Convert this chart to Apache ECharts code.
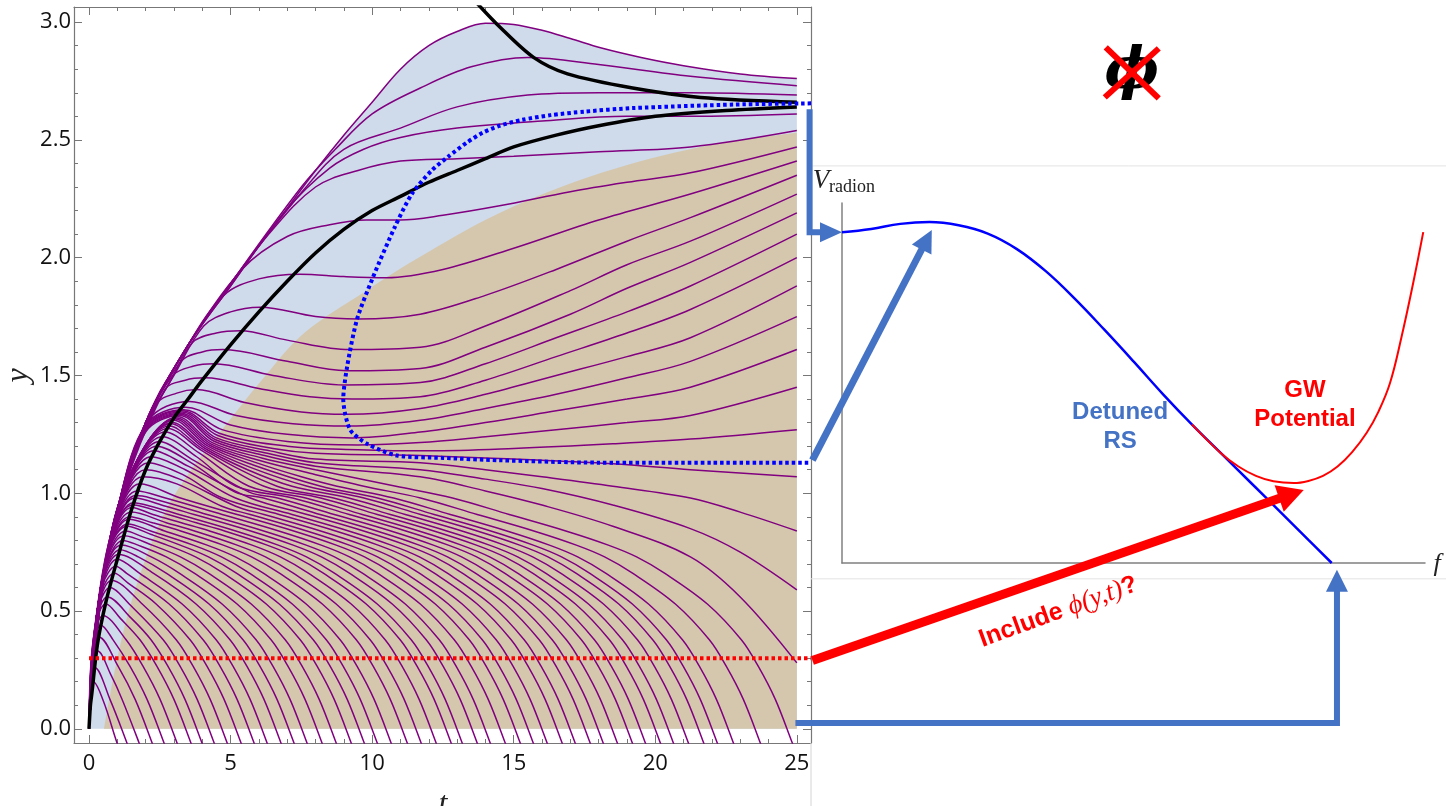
<!DOCTYPE html>
<html>
<head>
<meta charset="utf-8">
<script src="https://cdn.jsdelivr.net/npm/echarts@6.0.0/dist/echarts.min.js"></script>
<style>
  html, body { margin: 0; padding: 0; background: #fff; }
  #main { width: 1446px; height: 806px; }
</style>
</head>
<body>
<div id="main"></div>
<script>
// ---- axis ticks ----
const tTicks = [0, 5, 10, 15, 20, 25];
const tMinor = [0, 1, 2, 3, 4, 5, 6, 7, 8, 9, 10, 11, 12, 13, 14, 15, 16, 17, 18, 19, 20, 21, 22, 23, 24, 25];
const yTicks = [0, 0.5, 1, 1.5, 2, 2.5, 3];
const yMinor = [0, 0.1, 0.2, 0.3, 0.4, 0.5, 0.6, 0.7, 0.8, 0.9, 1, 1.1, 1.2, 1.3, 1.4, 1.5, 1.6, 1.7, 1.8, 1.9, 2, 2.1, 2.2, 2.3, 2.4, 2.5, 2.6, 2.7, 2.8, 2.9, 3];

// ---- left panel: y(t) trajectories ----
// top trajectory (also the edge of the blue region)
const envelopeCurve = [[0,0],[0.02,0.15],[0.08,0.3],[0.17,0.4],[0.28,0.5],[0.42,0.62],[0.6,0.74],[0.8,0.84],[1.0,0.93],[1.25,1.03],[1.5,1.12],[2.0,1.3],[2.5,1.43],[3.0,1.53],[3.5,1.63],[4.0,1.72],[5.0,1.89],[6.0,2.05],[7.0,2.21],[8.0,2.37],[9.0,2.52],[10.0,2.66],[11.0,2.8],[12.0,2.9],[13.0,2.96],[14.0,2.995],[15.0,2.99],[16.0,2.965],[17.0,2.93],[18.1,2.89],[19.5,2.85],[21.0,2.815],[23.0,2.78],[25.0,2.76]];
const tanBoundary = [[0.53,0],[1.0,0.3],[1.6,0.58],[2.6,0.9],[3.5,1.08],[4.9,1.3],[6.1,1.48],[7.6,1.68],[9.8,1.86],[11.5,1.99],[14.5,2.19],[18.1,2.36],[21.6,2.47],[25,2.53]];

// trajectories that fall through y = 0
const fallingTrajs = [
  [[0,0],[0.02,0.11],[0.05,0.175],[0.15,0.2],[0.5,0.12],[0.99,-0.06],[1.29,-0.16]],
  [[0,0],[0.03,0.14],[0.07,0.23],[0.2,0.26],[0.74,0.125],[1.34,-0.06],[1.64,-0.16]],
  [[0,0],[0.04,0.18],[0.1,0.29],[0.3,0.33],[0.77,0.23],[1.17,0.125],[1.77,-0.06],[2.07,-0.16]],
  [[0,0],[0.05,0.215],[0.15,0.34],[0.35,0.39],[1.03,0.265],[1.63,0.125],[2.23,-0.06],[2.53,-0.16]],
  [[0,0],[0.065,0.24],[0.19,0.39],[0.42,0.44],[0.85,0.378],[1.45,0.265],[2.05,0.125],[2.65,-0.06],[2.95,-0.16]],
  [[0,0],[0.075,0.26],[0.23,0.42],[0.5,0.48],[1.31,0.378],[1.91,0.265],[2.51,0.125],[3.11,-0.06],[3.41,-0.16]],
  [[0,0],[0.09,0.29],[0.28,0.47],[0.6,0.53],[1.1,0.47],[1.8,0.378],[2.4,0.265],[3.0,0.125],[3.6,-0.06],[3.9,-0.16]],
  [[0,0],[0.1,0.31],[0.32,0.49],[0.65,0.56],[1.49,0.47],[2.19,0.378],[2.79,0.265],[3.39,0.125],[3.99,-0.06],[4.29,-0.16]],
  [[0,0],[0.12,0.33],[0.37,0.53],[0.75,0.6],[1.42,0.53],[2.62,0.378],[3.22,0.265],[3.82,0.125],[4.42,-0.06],[4.72,-0.16]],
  [[0,0],[0.14,0.35],[0.4,0.55],[0.8,0.63],[1.88,0.53],[3.08,0.378],[3.68,0.265],[4.28,0.125],[4.88,-0.06],[5.18,-0.16]],
  [[0,0],[0.155,0.36],[0.44,0.58],[0.9,0.66],[1.37,0.62],[2.37,0.53],[3.57,0.378],[4.17,0.265],[4.77,0.125],[5.37,-0.06],[5.67,-0.16]],
  [[0,0],[0.18,0.38],[0.48,0.61],[0.95,0.69],[1.33,0.66],[2.83,0.53],[4.03,0.378],[4.63,0.265],[5.23,0.125],[5.83,-0.06],[6.13,-0.16]],
  [[0,0],[0.195,0.4],[0.52,0.63],[1.0,0.72],[1.79,0.66],[3.29,0.53],[4.49,0.378],[5.09,0.265],[5.69,0.125],[6.29,-0.06],[6.59,-0.16]],
  [[0,0],[0.2,0.41],[0.54,0.65],[1.05,0.74],[2.28,0.66],[3.78,0.53],[4.98,0.378],[5.58,0.265],[6.18,0.125],[6.78,-0.06],[7.08,-0.16]],
  [[0,0],[0.22,0.42],[0.57,0.67],[1.1,0.76],[1.74,0.73],[2.74,0.66],[4.24,0.53],[5.44,0.378],[6.04,0.265],[6.64,0.125],[7.24,-0.06],[7.54,-0.16]],
  [[0,0],[0.23,0.43],[0.6,0.69],[1.15,0.78],[2.2,0.73],[3.2,0.66],[4.7,0.53],[5.9,0.378],[6.5,0.265],[7.1,0.125],[7.7,-0.06],[8.0,-0.16]],
  [[0,0],[0.245,0.44],[0.625,0.7],[1.2,0.8],[1.73,0.78],[2.73,0.73],[3.73,0.66],[5.23,0.53],[6.43,0.378],[7.03,0.265],[7.63,0.125],[8.23,-0.06],[8.53,-0.16]],
  [[0,0],[0.26,0.45],[0.65,0.72],[1.25,0.82],[2.23,0.78],[3.23,0.73],[4.23,0.66],[5.73,0.53],[6.93,0.378],[7.53,0.265],[8.13,0.125],[8.73,-0.06],[9.03,-0.16]],
  [[0,0],[0.275,0.46],[0.68,0.74],[1.3,0.84],[1.9,0.815],[2.76,0.78],[3.76,0.73],[4.76,0.66],[6.26,0.53],[7.46,0.378],[8.06,0.265],[8.66,0.125],[9.26,-0.06],[9.56,-0.16]],
  [[0,0],[0.29,0.47],[0.71,0.76],[1.35,0.86],[2.2,0.825],[3.22,0.78],[4.22,0.73],[5.22,0.66],[6.72,0.53],[7.92,0.378],[8.52,0.265],[9.12,0.125],[9.72,-0.06],[10.02,-0.16]],
  [[0,0],[0.3,0.48],[0.73,0.77],[1.38,0.87],[2.18,0.84],[3.68,0.78],[4.68,0.73],[5.68,0.66],[7.18,0.53],[8.38,0.378],[8.98,0.265],[9.58,0.125],[10.18,-0.06],[10.48,-0.16]],
  [[0,0],[0.31,0.49],[0.77,0.78],[1.42,0.89],[2.67,0.84],[4.17,0.78],[5.17,0.73],[6.17,0.66],[7.67,0.53],[8.87,0.378],[9.47,0.265],[10.07,0.125],[10.67,-0.06],[10.97,-0.16]],
  [[0,0],[0.32,0.5],[0.79,0.79],[1.45,0.9],[2.24,0.875],[3.24,0.84],[4.74,0.78],[5.74,0.73],[6.74,0.66],[8.24,0.53],[9.44,0.378],[10.04,0.265],[10.64,0.125],[11.24,-0.06],[11.54,-0.16]],
  [[0,0],[0.33,0.51],[0.83,0.81],[1.5,0.92],[2.73,0.875],[3.73,0.84],[5.23,0.78],[6.23,0.73],[7.23,0.66],[8.73,0.53],[9.93,0.378],[10.53,0.265],[11.13,0.125],[11.73,-0.06],[12.03,-0.16]],
  [[0,0],[0.35,0.52],[0.87,0.83],[1.52,0.94],[2.26,0.91],[3.26,0.875],[4.26,0.84],[5.76,0.78],[6.76,0.73],[7.76,0.66],[9.26,0.53],[10.46,0.378],[11.06,0.265],[11.66,0.125],[12.26,-0.06],[12.56,-0.16]],
  [[0,0],[0.36,0.52],[0.88,0.84],[1.55,0.95],[2.79,0.91],[3.79,0.875],[4.79,0.84],[6.29,0.78],[7.29,0.73],[8.29,0.66],[9.79,0.53],[10.99,0.378],[11.59,0.265],[12.19,0.125],[12.79,-0.06],[13.09,-0.16]],
  [[0,0],[0.37,0.53],[0.9,0.85],[1.58,0.96],[2.18,0.945],[3.18,0.91],[5.18,0.84],[6.68,0.78],[7.68,0.73],[8.68,0.66],[10.18,0.53],[11.38,0.378],[11.98,0.265],[12.58,0.125],[13.18,-0.06],[13.48,-0.16]],
  [[0,0],[0.38,0.54],[0.93,0.86],[1.62,0.98],[2.71,0.945],[3.71,0.91],[5.71,0.84],[7.21,0.78],[8.21,0.73],[9.21,0.66],[10.71,0.53],[11.91,0.378],[12.51,0.265],[13.11,0.125],[13.71,-0.06],[14.01,-0.16]],
  [[0,0],[0.39,0.545],[0.95,0.87],[1.65,0.99],[2.17,0.98],[4.17,0.91],[6.17,0.84],[7.67,0.78],[8.67,0.73],[9.67,0.66],[11.17,0.53],[12.37,0.378],[12.97,0.265],[13.57,0.125],[14.17,-0.06],[14.47,-0.16]],
  [[0,0],[0.4,0.555],[0.99,0.89],[1.7,1.01],[2.7,0.98],[4.7,0.91],[6.7,0.84],[8.2,0.78],[9.2,0.73],[10.2,0.66],[11.7,0.53],[12.9,0.378],[13.5,0.265],[14.1,0.125],[14.7,-0.06],[15.0,-0.16]],
  [[0,0],[0.41,0.56],[1.0,0.9],[1.8,1.04],[3.23,0.98],[5.23,0.91],[7.23,0.84],[8.73,0.78],[9.73,0.73],[10.73,0.66],[12.23,0.53],[13.43,0.378],[14.03,0.265],[14.63,0.125],[15.23,-0.06],[15.53,-0.16]],
  [[0,0],[0.42,0.565],[1.05,0.92],[1.9,1.07],[3.1,1.04],[4.69,0.945],[5.69,0.91],[7.69,0.84],[9.19,0.78],[10.19,0.73],[11.19,0.66],[12.69,0.53],[13.89,0.378],[14.49,0.265],[15.09,0.125],[15.69,-0.06],[15.99,-0.16]],
  [[0,0],[0.42,0.57],[1.07,0.93],[2.0,1.1],[3.2,1.06],[5.18,0.945],[6.18,0.91],[8.18,0.84],[9.68,0.78],[10.68,0.73],[11.68,0.66],[13.18,0.53],[14.38,0.378],[14.98,0.265],[15.58,0.125],[16.18,-0.06],[16.48,-0.16]],
  [[0,0],[0.43,0.57],[1.09,0.94],[2.1,1.13],[3.3,1.08],[4.71,0.98],[6.71,0.91],[8.71,0.84],[10.21,0.78],[11.21,0.73],[12.21,0.66],[13.71,0.53],[14.91,0.378],[15.51,0.265],[16.11,0.125],[16.71,-0.06],[17.01,-0.16]],
  [[0,0],[0.435,0.575],[1.11,0.95],[2.2,1.155],[3.4,1.1],[5.17,0.98],[7.17,0.91],[9.17,0.84],[10.67,0.78],[11.67,0.73],[12.67,0.66],[14.17,0.53],[15.37,0.378],[15.97,0.265],[16.57,0.125],[17.17,-0.06],[17.47,-0.16]],
  [[0,0],[0.44,0.58],[1.13,0.96],[2.3,1.18],[3.5,1.115],[5.7,0.98],[7.7,0.91],[9.7,0.84],[11.2,0.78],[12.2,0.73],[13.2,0.66],[14.7,0.53],[15.9,0.378],[16.5,0.265],[17.1,0.125],[17.7,-0.06],[18.0,-0.16]],
  [[0,0],[0.445,0.58],[1.15,0.97],[2.4,1.2],[3.6,1.13],[5.16,1.005],[6.16,0.98],[8.16,0.91],[10.16,0.84],[11.66,0.78],[12.66,0.73],[13.66,0.66],[15.16,0.53],[16.36,0.378],[16.96,0.265],[17.56,0.125],[18.16,-0.06],[18.46,-0.16]],
  [[0,0],[0.45,0.585],[1.17,0.98],[2.5,1.22],[3.7,1.14],[5.66,1.005],[6.66,0.98],[8.66,0.91],[10.66,0.84],[12.16,0.78],[13.16,0.73],[14.16,0.66],[15.66,0.53],[16.86,0.378],[17.46,0.265],[18.06,0.125],[18.66,-0.06],[18.96,-0.16]],
  [[0,0],[0.455,0.59],[1.19,0.99],[2.6,1.24],[3.8,1.155],[5.19,1.03],[7.19,0.98],[9.19,0.91],[11.19,0.84],[12.69,0.78],[13.69,0.73],[14.69,0.66],[16.19,0.53],[17.39,0.378],[17.99,0.265],[18.59,0.125],[19.19,-0.06],[19.49,-0.16]],
  [[0,0],[0.46,0.59],[1.21,1.0],[2.7,1.26],[3.9,1.17],[5.65,1.03],[7.65,0.98],[9.65,0.91],[11.65,0.84],[13.15,0.78],[14.15,0.73],[15.15,0.66],[16.65,0.53],[17.85,0.378],[18.45,0.265],[19.05,0.125],[19.65,-0.06],[19.95,-0.16]],
  [[0,0],[0.465,0.595],[1.23,1.01],[2.8,1.275],[4.0,1.18],[6.18,1.03],[8.18,0.98],[10.18,0.91],[12.18,0.84],[13.68,0.78],[14.68,0.73],[15.68,0.66],[17.18,0.53],[18.38,0.378],[18.98,0.265],[19.58,0.125],[20.18,-0.06],[20.48,-0.16]],
  [[0,0],[0.47,0.6],[1.25,1.02],[2.85,1.285],[4.05,1.185],[6.64,1.03],[8.64,0.98],[10.64,0.91],[12.64,0.84],[14.14,0.78],[15.14,0.73],[16.14,0.66],[17.64,0.53],[18.84,0.378],[19.44,0.265],[20.04,0.125],[20.64,-0.06],[20.94,-0.16]],
  [[0,0],[0.475,0.6],[1.27,1.03],[2.9,1.295],[4.1,1.19],[5.6,1.1],[7.17,1.03],[9.17,0.98],[11.17,0.91],[13.17,0.84],[14.67,0.78],[15.67,0.73],[16.67,0.66],[18.17,0.53],[19.37,0.378],[19.97,0.265],[20.57,0.125],[21.17,-0.06],[21.47,-0.16]],
  [[0,0],[0.48,0.605],[1.3,1.035],[2.95,1.3],[4.15,1.195],[5.7,1.11],[7.71,1.03],[9.71,0.98],[11.71,0.91],[13.71,0.84],[15.21,0.78],[16.21,0.73],[17.21,0.66],[18.71,0.53],[19.91,0.378],[20.51,0.265],[21.11,0.125],[21.71,-0.06],[22.01,-0.16]],
  [[0,0],[0.485,0.61],[1.32,1.04],[3.0,1.31],[4.2,1.2],[5.8,1.12],[8.19,1.03],[10.19,0.98],[12.19,0.91],[14.19,0.84],[15.69,0.78],[16.69,0.73],[17.69,0.66],[19.19,0.53],[20.39,0.378],[20.99,0.265],[21.59,0.125],[22.19,-0.06],[22.49,-0.16]],
  [[0,0],[0.49,0.61],[1.34,1.05],[3.05,1.315],[4.25,1.205],[5.9,1.13],[7.5,1.07],[8.76,1.03],[10.76,0.98],[12.76,0.91],[14.76,0.84],[16.26,0.78],[17.26,0.73],[18.26,0.66],[19.76,0.53],[20.96,0.378],[21.56,0.265],[22.16,0.125],[22.76,-0.06],[23.06,-0.16]],
  [[0,0],[0.5,0.615],[1.36,1.055],[3.1,1.32],[4.3,1.21],[6.0,1.14],[7.8,1.085],[9.71,1.03],[11.71,0.98],[13.71,0.91],[15.71,0.84],[17.21,0.78],[18.21,0.73],[19.21,0.66],[20.71,0.53],[21.91,0.378],[22.51,0.265],[23.11,0.125],[23.71,-0.06],[24.01,-0.16]],
  [[0,0],[0.51,0.62],[1.38,1.06],[3.15,1.325],[4.35,1.215],[6.1,1.15],[8.0,1.1],[10.84,1.03],[12.84,0.98],[14.84,0.91],[16.84,0.84],[18.34,0.78],[19.34,0.73],[20.34,0.66],[21.84,0.53],[23.04,0.378],[23.64,0.265],[24.24,0.125],[24.84,-0.06],[25.0,-0.11]]
];

// trajectories still above zero at t = 25 but bending down
const turningTrajs = [
  [[0,0],[0.29,0.5],[1.0,0.93],[2.0,1.26],[3.2,1.33],[4.4,1.222],[6.2,1.16],[8,1.115],[11.7,1.07],[14,1.01],[16,0.95],[18.5,0.86],[21.24,0.73],[23,0.56],[25,0.28]],
  [[0,0],[0.29,0.5],[1.0,0.93],[2.0,1.265],[3.22,1.335],[4.45,1.228],[6.3,1.17],[8,1.13],[11.7,1.1],[14,1.06],[16,1.02],[18.5,0.95],[21.24,0.85],[23,0.75],[25,0.59]],
  [[0,0],[0.29,0.5],[1.0,0.93],[2.0,1.27],[3.25,1.34],[4.5,1.235],[6.4,1.18],[8,1.145],[11.7,1.13],[14,1.1],[16,1.07],[18.5,1.03],[21.24,0.98],[23,0.92],[25,0.84]],
  [[0,0],[0.29,0.5],[1.0,0.93],[2.0,1.275],[3.28,1.345],[4.55,1.245],[6.5,1.19],[8,1.17],[11.7,1.16],[14,1.15],[16,1.14],[18.5,1.125],[21.24,1.1],[25,1.07]]
];

// trajectories that dip and rise again towards the late-time value
const risingTrajs = [
  [[0,0],[0.29,0.5],[1.0,0.93],[2.0,1.28],[3.3,1.35],[4.6,1.255],[7,1.2],[9.5,1.185],[12,1.18],[15,1.19],[18.5,1.21],[21.24,1.23],[25,1.27]],
  [[0,0],[0.29,0.5],[1.0,0.93],[2.0,1.285],[3.35,1.355],[4.7,1.27],[7,1.22],[9.5,1.205],[11.7,1.215],[14,1.24],[16.5,1.27],[19,1.3],[21.24,1.33],[25,1.45]],
  [[0,0],[0.29,0.5],[1.0,0.93],[2.0,1.29],[3.42,1.365],[5,1.29],[7,1.25],[9.3,1.235],[11.7,1.26],[14,1.3],[16.5,1.35],[19,1.4],[21.24,1.45],[25,1.61]],
  [[0,0],[0.29,0.5],[1.0,0.93],[2.1,1.31],[3.55,1.39],[5.2,1.33],[7.2,1.295],[9.2,1.285],[11.7,1.31],[14,1.36],[16.5,1.42],[19,1.49],[21.24,1.56],[25,1.75]],
  [[0,0],[0.29,0.5],[1.0,0.93],[2.4,1.38],[3.1,1.425],[3.8,1.44],[5.5,1.385],[7.5,1.345],[9.1,1.335],[11.7,1.36],[14,1.42],[16.5,1.5],[19,1.58],[21.24,1.66],[25,1.88]],
  [[0,0],[0.29,0.5],[1.0,0.93],[2.68,1.44],[3.4,1.48],[4.1,1.49],[6,1.445],[7.8,1.41],[9.3,1.4],[11.7,1.41],[14,1.48],[16.5,1.58],[19,1.68],[21.24,1.78],[25,2.0]],
  [[0,0],[0.29,0.5],[1.0,0.93],[2.0,1.29],[2.96,1.5],[3.7,1.54],[4.4,1.55],[6.5,1.5],[9.0,1.46],[11.7,1.47],[14,1.55],[16.5,1.66],[19,1.77],[21.24,1.88],[25,2.1]],
  [[0,0],[0.29,0.5],[1.0,0.93],[2.0,1.29],[3.25,1.56],[4.0,1.6],[4.73,1.61],[7,1.56],[9.1,1.52],[11.7,1.53],[14,1.62],[17,1.76],[19,1.87],[21.24,1.98],[25,2.19]],
  [[0,0],[0.29,0.5],[1.0,0.93],[2.0,1.29],[2.8,1.46],[3.66,1.64],[4.5,1.68],[5.34,1.69],[7,1.65],[9.2,1.61],[11.7,1.62],[14,1.71],[17,1.86],[19,1.97],[21.24,2.07],[25,2.27]],
  [[0,0],[0.29,0.5],[1.0,0.93],[2.0,1.29],[3.0,1.5],[4.05,1.71],[5,1.77],[6.04,1.79],[8,1.75],[9.5,1.74],[11.7,1.76],[14,1.84],[16.5,1.95],[19,2.07],[21.24,2.17],[25,2.35]],
  [[0,0],[0.29,0.5],[1.0,0.93],[2.0,1.3],[3.4,1.61],[4.76,1.84],[6,1.91],[7.46,1.93],[9,1.92],[10.5,1.915],[12.5,1.95],[15,2.04],[18,2.16],[21.24,2.27],[25,2.41]],
  [[0,0],[0.29,0.5],[1.0,0.93],[2.0,1.3],[3.4,1.61],[5.4,1.95],[7,2.09],[8.5,2.14],[9.8,2.16],[11,2.16],[12.5,2.18],[14.5,2.22],[17,2.28],[19,2.32],[21.24,2.36],[25,2.47]],
  [[0,0],[0.29,0.5],[1.0,0.93],[2.0,1.3],[3.4,1.61],[5,1.88],[6.35,2.1],[8,2.3],[9.5,2.37],[11,2.41],[13,2.42],[15,2.43],[18,2.45],[21.24,2.47],[25,2.54]],
  [[0,0],[0.29,0.5],[1.0,0.93],[2.0,1.3],[3.4,1.61],[5,1.88],[6.95,2.2],[8.5,2.38],[9.7,2.46],[11,2.51],[13,2.55],[16,2.58],[19,2.6],[21.24,2.6],[25,2.61]]
];

// trajectories that overshoot above the late-time value
const topTrajs = [
  [[0,0],[0.29,0.5],[1.0,0.93],[2.0,1.3],[3.4,1.61],[5,1.89],[7.6,2.29],[9,2.46],[11,2.55],[13,2.64],[15.5,2.69],[18,2.7],[21.24,2.7],[25,2.69]],
  [[0,0],[0.29,0.5],[1.0,0.93],[2.0,1.3],[3.4,1.61],[5,1.89],[7.5,2.3],[8.7,2.46],[10,2.61],[11.7,2.72],[13.5,2.81],[15.5,2.85],[18,2.82],[21.24,2.77],[25,2.73]]
];

// loci of maxima (black) and minima (blue dotted)
const maxLocusLow = [[0,0],[0.05,0.1],[0.1,0.15],[0.3,0.36],[0.6,0.54],[1.0,0.72],[1.5,0.93],[2.0,1.1],[2.5,1.22],[3.0,1.32],[3.5,1.4],[4.0,1.48],[5.0,1.63],[6.0,1.77],[7.0,1.9],[8.0,2.02],[9.0,2.12],[10.0,2.2],[11.0,2.26],[12.0,2.32],[13.0,2.37],[14.0,2.42],[15.0,2.47],[16.5,2.52],[18.0,2.56],[20.0,2.6],[22.5,2.625],[25,2.64]];
const maxLocusHigh = [[13.55,3.1],[14.5,2.98],[15.7,2.85],[16.9,2.78],[19.2,2.72],[21.6,2.68],[25,2.66]];
const minLocus = [[25.5,2.655],[22.8,2.65],[19.2,2.635],[17.5,2.62],[16.3,2.605],[15.3,2.585],[14.5,2.56],[13.9,2.53],[13.36,2.49],[12.7,2.43],[12.1,2.37],[11.4,2.27],[10.8,2.13],[10.04,1.92],[9.47,1.74],[9.12,1.54],[8.98,1.4],[9.22,1.27],[9.82,1.21],[10.88,1.16],[12.5,1.15],[14.5,1.14],[18,1.13],[22,1.13],[25.5,1.13]];
const redLevel = [[0,0.3],[25.5,0.3]];

// ---- right panel: radion potential V(f) ----
const rsPotential = [[0,9.19],[0.5,9.28],[1.0,9.42],[1.5,9.47],[2.0,9.38],[2.5,9.15],[3.0,8.72],[3.5,8.1],[4.0,7.33],[4.5,6.48],[5.0,5.6],[5.5,4.7],[6.0,3.85],[6.5,3.05],[7.0,2.25],[7.5,1.45],[8.0,0.64],[8.4,0]];
const gwPotential = [[6.0,3.85],[6.5,3.05],[6.8,2.68],[7.1,2.42],[7.4,2.27],[7.75,2.22],[8.0,2.28],[8.25,2.42],[8.5,2.68],[8.75,3.08],[9.0,3.62],[9.2,4.2],[9.4,5.0],[9.6,6.3],[9.8,7.8],[9.97,9.19]];

const frameColor = '#777';
const purple = '#800080';
const office = '#4472c4';

const chart = echarts.init(document.getElementById('main'));

function frameAxis(pos, values, len, withLabels, extra) {
  const isX = pos === 'bottom' || pos === 'top';
  const ax = {
    gridIndex: 0,
    type: 'value',
    position: pos,
    min: isX ? -0.53 : -0.06,
    max: isX ? 25.5 : 3.064,
    axisLine: { show: true, onZero: false, lineStyle: { color: frameColor, width: 1.2 } },
    axisTick: { show: true, inside: true, length: len, customValues: values, lineStyle: { color: frameColor, width: 1 } },
    axisLabel: { show: false },
    splitLine: { show: false }
  };
  if (withLabels) {
    ax.axisLabel = {
      show: true,
      customValues: values,
      fontFamily: 'Open Sans',
      fontSize: 22,
      color: '#111',
      margin: isX ? 10 : 3,
      formatter: isX ? (v => String(v)) : (v => v.toFixed(1))
    };
  }
  return Object.assign(ax, extra || {});
}

const curveSeries = [];
function addCurves(list) {
  list.forEach(d => {
    curveSeries.push({
      type: 'line', xAxisIndex: 0, yAxisIndex: 0, data: d,
      smooth: 0.35, symbol: 'none', silent: true,
      lineStyle: { color: purple, width: 1.5 }
    });
  });
}
addCurves(fallingTrajs);
addCurves(turningTrajs);
addCurves(risingTrajs);
addCurves(topTrajs);
addCurves([envelopeCurve]);

const option = {
  animation: false,
  backgroundColor: '#fff',
  grid: [
    { left: 74, top: 7, width: 737, height: 736, containLabel: false, outerBoundsMode: 'none' },
    { left: 842, top: 203, width: 583, height: 360, containLabel: false, outerBoundsMode: 'none' }
  ],
  xAxis: [
    frameAxis('bottom', tTicks, 8, true),
    frameAxis('bottom', tMinor, 4, false, { axisLine: { show: false, onZero: false } }),
    frameAxis('top', tTicks, 8, false),
    frameAxis('top', tMinor, 4, false, { axisLine: { show: false, onZero: false } }),
    {
      gridIndex: 1, type: 'value', min: 0, max: 10, position: 'bottom',
      axisLine: { show: true, onZero: false, lineStyle: { color: '#808080', width: 1.5 } },
      axisTick: { show: false }, axisLabel: { show: false }, splitLine: { show: false }
    }
  ],
  yAxis: [
    frameAxis('left', yTicks, 8, true),
    frameAxis('left', yMinor, 4, false, { axisLine: { show: false, onZero: false } }),
    frameAxis('right', yTicks, 8, false),
    frameAxis('right', yMinor, 4, false, { axisLine: { show: false, onZero: false } }),
    {
      gridIndex: 1, type: 'value', min: 0, max: 10, position: 'left',
      axisLine: { show: true, onZero: false, lineStyle: { color: '#808080', width: 1.5 } },
      axisTick: { show: false }, axisLabel: { show: false }, splitLine: { show: false }
    }
  ],
  series: [
    {
      type: 'line', xAxisIndex: 0, yAxisIndex: 0, data: envelopeCurve, smooth: 0.35,
      symbol: 'none', silent: true, lineStyle: { width: 0 },
      areaStyle: { color: '#cfdaea', opacity: 1 }
    },
    {
      type: 'line', xAxisIndex: 0, yAxisIndex: 0, data: tanBoundary, smooth: 0.35,
      symbol: 'none', silent: true, lineStyle: { width: 0 },
      areaStyle: { color: '#d5c7ad', opacity: 1 }
    }
  ].concat(curveSeries).concat([
    {
      type: 'line', xAxisIndex: 0, yAxisIndex: 0, data: maxLocusLow, smooth: 0.3,
      symbol: 'none', silent: true, lineStyle: { color: '#000', width: 3.5 }
    },
    {
      type: 'line', xAxisIndex: 0, yAxisIndex: 0, data: maxLocusHigh, smooth: 0.3,
      symbol: 'none', silent: true, lineStyle: { color: '#000', width: 3.5 }
    },
    {
      type: 'line', xAxisIndex: 0, yAxisIndex: 0, data: redLevel, clip: false,
      symbol: 'none', silent: true, lineStyle: { color: '#ff0000', width: 4, type: [3.5, 3] }
    },
    {
      type: 'line', xAxisIndex: 0, yAxisIndex: 0, data: minLocus, smooth: 0.25, clip: false,
      symbol: 'none', silent: true, lineStyle: { color: '#0000ff', width: 4, type: [3.5, 3] }
    },
    {
      type: 'line', xAxisIndex: 4, yAxisIndex: 4, data: rsPotential, smooth: 0.4,
      symbol: 'none', silent: true, lineStyle: { color: '#0000ff', width: 2.5 }
    },
    {
      type: 'line', xAxisIndex: 4, yAxisIndex: 4, data: gwPotential, smooth: 0.4,
      symbol: 'none', silent: true, lineStyle: { color: '#ff0000', width: 2 }
    }
  ])
};
chart.setOption(option);

// ---- annotations anchored on both panels ----
const p0 = v => chart.convertToPixel({ gridIndex: 0 }, v);
const p1 = v => chart.convertToPixel({ gridIndex: 1 }, v);

function arrow(pts, color, width, headLen, headHalf) {
  const n = pts.length;
  const tip = pts[n - 1], prev = pts[n - 2];
  const dx = tip[0] - prev[0], dy = tip[1] - prev[1];
  const L = Math.hypot(dx, dy);
  const ux = dx / L, uy = dy / L;
  const base = [tip[0] - ux * headLen, tip[1] - uy * headLen];
  const shaft = pts.slice(0, n - 1).concat([[base[0] + ux * 2, base[1] + uy * 2]]);
  return [
    { type: 'polyline', z: 50, shape: { points: shaft },
      style: { stroke: color, lineWidth: width, fill: null, lineJoin: 'miter' } },
    { type: 'polygon', z: 50,
      shape: { points: [tip, [base[0] - uy * headHalf, base[1] + ux * headHalf], [base[0] + uy * headHalf, base[1] - ux * headHalf]] },
      style: { fill: color } }
  ];
}

const rightEdge = p0([25.5, 0])[0];
const topSep = p1([0, 11.03])[1];
const botSep = p1([0, -0.44])[1];
const frameBottom = p0([0, -0.06])[1];
const leftEdge = p0([-0.53, 0])[0];

// top bracket: from the late-time value to the false vacuum
const bTop = p0([25.45, 2.63]);
const bTip = p1([0, 9.19]);
// bottom bracket: from y = 0 to the f = 0 crossing
const cStart = p0([24.95, 0.025]);
const cTip = p1([8.49, -0.19]);

const phiCenter = p1([4.97, 13.6]);
const detuned = p1([4.77, 3.78]);
const gwText = p1([7.94, 4.39]);
const includeText = p1([3.71, -1.36]);
const vLabel = p1([0, 10]);
const fLabel = p1([10, 0]);
const yName = p0([0, 1.5]);
const tName = p0([12.5, 0]);

const graphic = [
  { type: 'line', z: 1, shape: { x1: rightEdge, y1: topSep, x2: 1446, y2: topSep }, style: { stroke: '#e3e3e3', lineWidth: 1 } },
  { type: 'line', z: 1, shape: { x1: rightEdge, y1: botSep, x2: 1446, y2: botSep }, style: { stroke: '#e3e3e3', lineWidth: 1 } },
  { type: 'line', z: 1, shape: { x1: rightEdge, y1: frameBottom, x2: rightEdge, y2: 806 }, style: { stroke: '#d4d4d4', lineWidth: 1 } },
  { type: 'text', z: 60, x: leftEdge - 55, y: yName[1], rotation: Math.PI / 2,
    style: { text: 'y', font: 'italic 32px "Liberation Serif"', fill: '#222', align: 'center', verticalAlign: 'middle' } },
  { type: 'text', z: 60, x: tName[0], y: frameBottom + 62,
    style: { text: 't', font: 'italic 32px "Liberation Serif"', fill: '#222', align: 'center', verticalAlign: 'middle' } },
  { type: 'text', z: 60, x: fLabel[0] + 12, y: fLabel[1] + 1,
    style: { text: 'f', font: 'italic 26px "Liberation Serif"', fill: '#222', align: 'center', verticalAlign: 'middle' } },
  { type: 'text', z: 60, x: phiCenter[0], y: phiCenter[1],
    style: { text: 'ϕ', font: 'italic bold 58px "DejaVu Serif"', fill: '#000', align: 'center', verticalAlign: 'middle' } },
  { type: 'line', z: 61, shape: { x1: phiCenter[0] - 26, y1: phiCenter[1] - 26, x2: phiCenter[0] + 27, y2: phiCenter[1] + 25 }, style: { stroke: '#ff0000', lineWidth: 6 } },
  { type: 'line', z: 61, shape: { x1: phiCenter[0] + 27, y1: phiCenter[1] - 25, x2: phiCenter[0] - 27, y2: phiCenter[1] + 24 }, style: { stroke: '#ff0000', lineWidth: 6 } },
  { type: 'text', z: 60, x: vLabel[0] - 21, y: vLabel[1] - 22,
    style: { text: 'V', font: 'italic 27px "Liberation Serif"', fill: '#222', align: 'center', verticalAlign: 'middle' } },
  { type: 'text', z: 60, x: vLabel[0] - 13, y: vLabel[1] - 16,
    style: { text: 'radion', font: '18px "Liberation Serif"', fill: '#222', align: 'left', verticalAlign: 'middle' } },
  { type: 'text', z: 60, x: detuned[0], y: detuned[1],
    style: { text: 'Detuned\nRS', font: 'bold 24px "Liberation Sans"', fill: office, align: 'center', verticalAlign: 'middle', lineHeight: 29 } },
  { type: 'text', z: 60, x: gwText[0], y: gwText[1],
    style: { text: 'GW\nPotential', font: 'bold 24px "Liberation Sans"', fill: '#ff0000', align: 'center', verticalAlign: 'middle', lineHeight: 29 } },
  { type: 'text', z: 60, x: includeText[0], y: includeText[1], rotation: 20 * Math.PI / 180,
    style: {
      text: '{a|Include }{b|ϕ(y,t)}{a|?}', align: 'center', verticalAlign: 'middle',
      rich: {
        a: { font: 'bold 25px "Liberation Sans"', fill: '#ff0000' },
        b: { font: 'italic 27px "Liberation Serif"', fill: '#ff0000' }
      }
    } }
]
  .concat(arrow([bTop, [bTop[0], bTip[1]], bTip], office, 6, 22, 10))
  .concat(arrow([p0([25.55, 1.141]), p1([1.54, 9.25])], office, 7, 22, 11))
  .concat(arrow([p0([25.55, 0.29]), p1([7.92, 2.03])], '#ff0000', 9, 26, 14))
  .concat(arrow([cStart, [cTip[0], cStart[1]], cTip], office, 6, 22, 11));

chart.setOption({ graphic: graphic });
</script>
</body>
</html>
